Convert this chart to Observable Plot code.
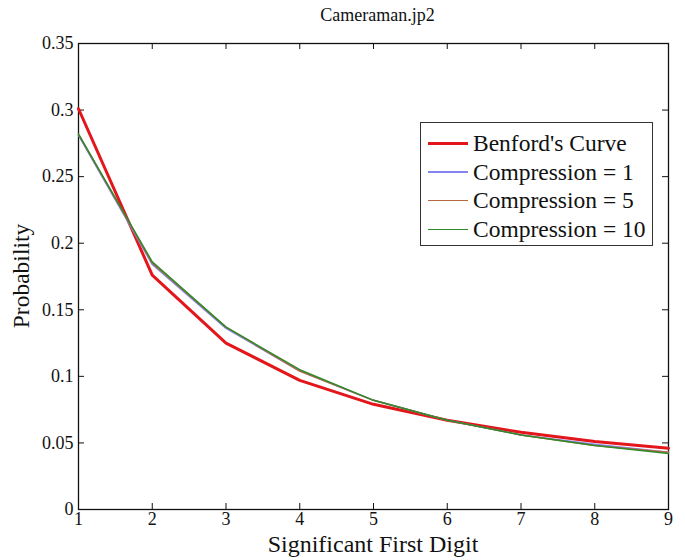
<!DOCTYPE html>
<html>
<head>
<meta charset="utf-8">
<script src="https://cdn.jsdelivr.net/npm/d3@7"></script>
<script src="https://cdn.jsdelivr.net/npm/@observablehq/plot@0.6"></script>
<style>
  html, body { margin: 0; padding: 0; background: #fff; }
  #wrap { position: relative; width: 685px; height: 560px; font-family: "Liberation Serif", "DejaVu Serif", serif; color: #111; }
  #wrap svg { position: absolute; left: 0; top: 0; }
  .lbl { position: absolute; white-space: nowrap; line-height: 1; }
  #title { left: 0; width: 755px; top: 6px; font-size: 18px; text-align: center; }
  #xlabel { left: 78px; width: 590px; top: 532px; font-size: 24px; text-align: center; }
  #ylabel { left: 22px; top: 276px; font-size: 23.5px; transform: translate(-50%, -50%) rotate(-90deg); }
  #legend { position: absolute; left: 420px; top: 122px; width: 233px; height: 124px; border: 1px solid #333; background: #fff; box-sizing: border-box; padding-top: 6px; }
  .item { display: flex; align-items: center; height: 28.7px; font-size: 23.5px; color: #111; white-space: nowrap; }
  .sw { width: 40px; margin-left: 7px; margin-right: 5px; flex: none; }
</style>
</head>
<body>
<div id="wrap"></div>
<script>
const digits = [1, 2, 3, 4, 5, 6, 7, 8, 9];
const benford = [0.301, 0.176, 0.125, 0.097, 0.079, 0.067, 0.058, 0.051, 0.046];
const comp1  = [0.281, 0.184, 0.136, 0.104, 0.082, 0.067, 0.056, 0.049, 0.043];
const comp5  = [0.282, 0.185, 0.137, 0.104, 0.082, 0.067, 0.056, 0.048, 0.043];
const comp10 = [0.282, 0.186, 0.137, 0.105, 0.082, 0.067, 0.056, 0.048, 0.042];
const seriesNames = ["Benford's Curve", "Compression = 1", "Compression = 5", "Compression = 10"];
const seriesColors = ["#e3161b", "#8585f0", "#b8683f", "#2e8a2a"];
const seriesWidths = [3, 1.5, 1.5, 1.5];
const yTicks = [0, 0.05, 0.1, 0.15, 0.2, 0.25, 0.3, 0.35];
const yTickLabels = ["0", "0.05", "0.1", "0.15", "0.2", "0.25", "0.3", "0.35"];
const xTicks = digits;
const titleText = "Cameraman.jp2";
const xLabelText = "Significant First Digit";
const yLabelText = "Probability";

const allSeries = [benford, comp1, comp5, comp10];
const rows = [];
allSeries.forEach((vals, si) => vals.forEach((v, i) => rows.push({digit: digits[i], p: v, s: seriesNames[si]})));

const W = 685, H = 560, mL = 78, mR = 17, mT = 43, mB = 51;
const pw = W - mL - mR, ph = H - mT - mB;
const FF = "'Liberation Serif', 'DejaVu Serif', serif";

const lineMarks = seriesNames.map((name, si) =>
  Plot.line(rows.filter(r => r.s === name), {x: "digit", y: "p", stroke: seriesColors[si], strokeWidth: seriesWidths[si]})
);

const chart = Plot.plot({
  width: W, height: H,
  marginLeft: mL, marginRight: mR, marginTop: mT, marginBottom: mB,
  style: {fontFamily: FF, background: "#fff", color: "#111"},
  x: {domain: [1, 9]},
  y: {domain: [0, 0.35]},
  marks: [
    Plot.frame({stroke: "#111", strokeWidth: 1.3}),
    Plot.tickY(yTicks, {y: d => d, insetRight: pw - 6, stroke: "#111"}),
    Plot.tickY(yTicks, {y: d => d, insetLeft: pw - 6, stroke: "#111"}),
    Plot.tickX(xTicks, {x: d => d, insetTop: ph - 6, stroke: "#111"}),
    Plot.tickX(xTicks, {x: d => d, insetBottom: ph - 6, stroke: "#111"}),
    Plot.axisY(yTicks, {tickSize: 0, tickPadding: 5, fontSize: 18, fontFamily: FF, fill: "#111", tickFormat: d => yTickLabels[yTicks.indexOf(d)], label: null}),
    Plot.axisX(xTicks, {tickSize: 0, tickPadding: 3, fontSize: 18, fontFamily: FF, fill: "#111", label: null}),
    ...lineMarks
  ]
});

const wrap = document.getElementById("wrap");
wrap.appendChild(chart);

function addLabel(id, text) {
  const d = document.createElement("div");
  d.id = id; d.className = "lbl"; d.textContent = text;
  wrap.appendChild(d);
}
addLabel("title", titleText);
addLabel("xlabel", xLabelText);
addLabel("ylabel", yLabelText);

const legend = document.createElement("div");
legend.id = "legend";
seriesNames.forEach((name, si) => {
  const item = document.createElement("div");
  item.className = "item";
  const sw = document.createElement("div");
  sw.className = "sw";
  sw.style.height = seriesWidths[si] + "px";
  sw.style.background = seriesColors[si];
  const t = document.createElement("span");
  t.textContent = name;
  item.appendChild(sw);
  item.appendChild(t);
  legend.appendChild(item);
});
wrap.appendChild(legend);
</script>
</body>
</html>
